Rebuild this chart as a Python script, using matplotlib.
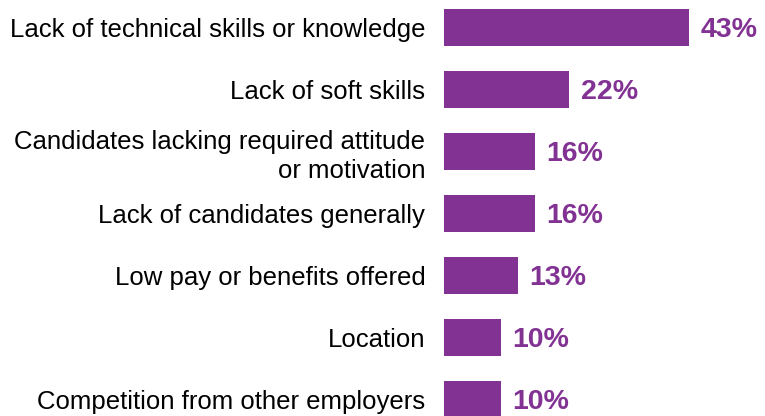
import matplotlib.pyplot as plt

plt.rcParams['font.family'] = ['Liberation Sans', 'DejaVu Sans']

# 招聘困难原因及占比
reasons = [
    'Lack of technical skills or knowledge',
    'Lack of soft skills',
    'Candidates lacking required attitude\nor motivation',
    'Lack of candidates generally',
    'Low pay or benefits offered',
    'Location',
    'Competition from other employers',
]
shares = [43, 22, 16, 16, 13, 10, 10]

bar_color = '#823293'

fig = plt.figure(figsize=(7.65, 4.16), dpi=100)
ax = fig.add_axes([444 / 765, 0, 321 / 765, 1])

pos = list(range(len(reasons)))
bars = ax.barh(pos, shares, height=0.6, color=bar_color)

# 数值标签
for b, v in zip(bars, shares):
    ax.annotate(f'{v}%', (b.get_width(), b.get_y() + b.get_height() / 2),
                xytext=(8, -1.5), textcoords='offset points',
                ha='left', va='center', fontsize=20.5, fontweight='bold',
                color=bar_color)

ax.set_xlim(0, 56.3)
ax.set_ylim(6.266, -0.444)
ax.set_yticks(pos)
ax.set_yticklabels(reasons, fontsize=18.5, linespacing=1.25)
ax.tick_params(axis='y', length=0, pad=13.5)
ax.set_xticks([])
for s in ax.spines.values():
    s.set_visible(False)

plt.savefig('out.png', dpi=100)
